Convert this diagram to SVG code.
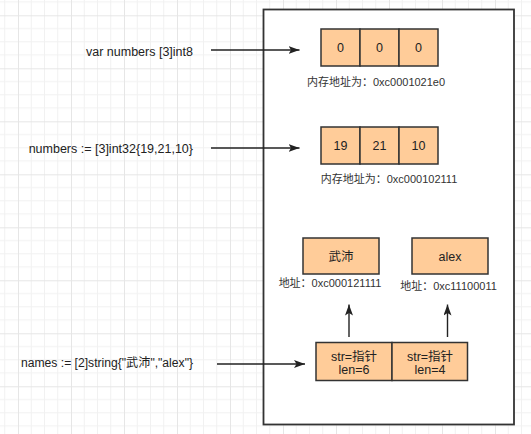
<svg xmlns="http://www.w3.org/2000/svg" width="531" height="434" viewBox="0 0 531 434">
<defs>
<pattern id="grid" x="18" y="15.3" width="53" height="53" patternUnits="userSpaceOnUse">
<path d="M13.25,0V53M26.5,0V53M39.75,0V53M0,13.25H53M0,26.5H53M0,39.75H53" stroke="#f1f1f1" stroke-width="1" fill="none"/>
<path d="M0.5,0V53M0,0.5H53" stroke="#e6e6e6" stroke-width="1" fill="none"/>
</pattern>
<marker id="arr" markerUnits="userSpaceOnUse" markerWidth="11" markerHeight="8" refX="11" refY="4" orient="auto">
<path d="M0,0 L11,4 L0,8 L2.5,4 Z" fill="#222"/>
</marker>
<style>
.t{font-family:"Liberation Sans","Noto Sans CJK SC",sans-serif;fill:#222;}
.l{font-size:12.5px;text-anchor:end;}
.c{font-size:12.5px;text-anchor:middle;}
.s{font-size:11px;text-anchor:middle;fill:#333;}
.cell{fill:#FFCC99;stroke:#333;stroke-width:1.5;}
.edge{stroke:#222;stroke-width:1.4;fill:none;marker-end:url(#arr);}
</style>
</defs>
<rect width="531" height="434" fill="#fff"/>
<rect width="531" height="434" fill="url(#grid)"/>
<g id="memory">
<rect x="263.5" y="9.5" width="250.5" height="415" fill="#fff" stroke="#333" stroke-width="1.8"/>
</g>
<g id="label-var">
<text class="t l" x="193" y="56">var numbers [3]int8</text>
</g>
<g id="label-numbers">
<text class="t l" x="193" y="152.5">numbers := [3]int32{19,21,10}</text>
</g>
<g id="label-names">
<text class="t l" x="193" y="367" textLength="172" lengthAdjust="spacingAndGlyphs">names := [2]string{"武沛","alex"}</text>
</g>
<g id="array1">
<rect class="cell" x="321" y="29" width="39" height="37"/>
<rect class="cell" x="360" y="29" width="39" height="37"/>
<rect class="cell" x="399" y="29" width="39" height="37"/>
<text class="t c" x="340.5" y="52">0</text>
<text class="t c" x="379.5" y="52">0</text>
<text class="t c" x="418.5" y="52">0</text>
<text class="t s" x="376" y="86">内存地址为：0xc0001021e0</text>
</g>
<g id="array2">
<rect class="cell" x="321" y="127" width="39" height="37"/>
<rect class="cell" x="360" y="127" width="39" height="37"/>
<rect class="cell" x="399" y="127" width="39" height="37"/>
<text class="t c" x="340.5" y="150">19</text>
<text class="t c" x="379.5" y="150">21</text>
<text class="t c" x="418.5" y="150">10</text>
<text class="t s" x="389" y="183">内存地址为：0xc000102111</text>
</g>
<g id="str1">
<rect class="cell" x="303" y="238" width="76" height="36"/>
<text class="t c" x="341" y="260.5">武沛</text>
<text class="t s" x="330" y="287">地址：0xc000121111</text>
</g>
<g id="str2">
<rect class="cell" x="412" y="238" width="76" height="36"/>
<text class="t c" x="450" y="260.5">alex</text>
<text class="t s" x="448.5" y="290">地址：0xc11100011</text>
</g>
<g id="names-array">
<rect class="cell" x="316" y="342.5" width="76" height="38"/>
<rect class="cell" x="392" y="342.5" width="75.5" height="38"/>
<text class="t c" x="354" y="361">str=指针</text>
<text class="t c" x="354" y="374">len=6</text>
<text class="t c" x="430" y="361">str=指针</text>
<text class="t c" x="430" y="374">len=4</text>
</g>
<g id="connectors">
<line class="edge" x1="211" y1="50" x2="299.5" y2="50"/>
<line class="edge" x1="211" y1="148" x2="299.5" y2="148"/>
<line class="edge" x1="217" y1="364" x2="305" y2="364"/>
<line class="edge" x1="349" y1="337" x2="349" y2="304.5"/>
<line class="edge" x1="447.5" y1="337" x2="447.5" y2="304.5"/>
</g>
</svg>
